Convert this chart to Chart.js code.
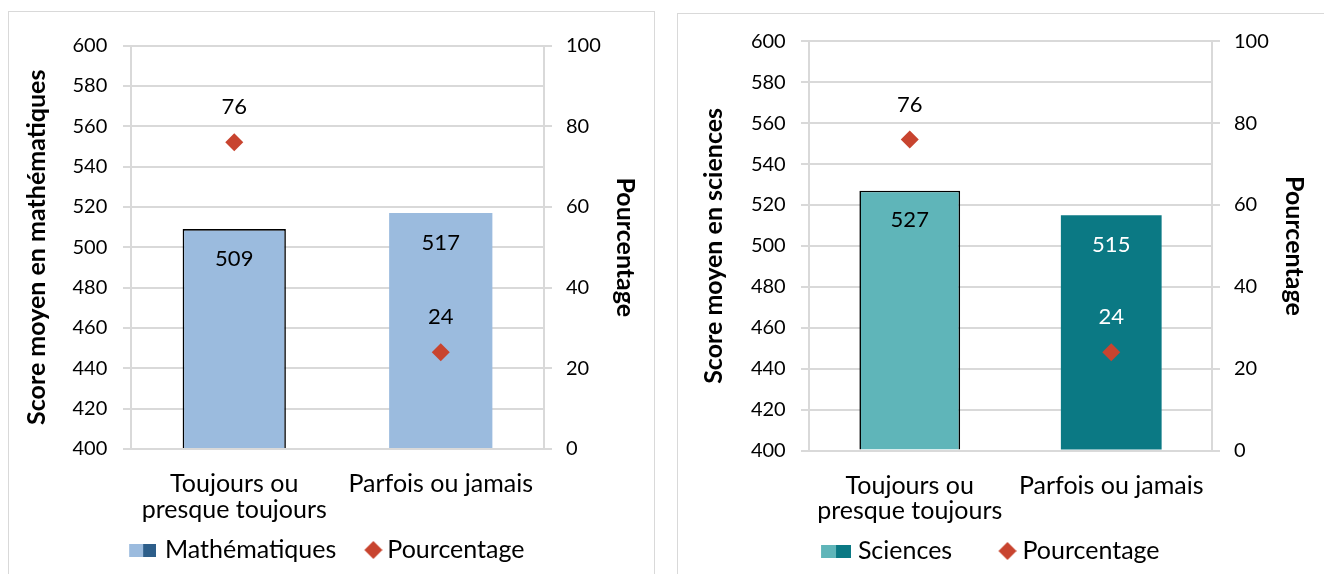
<!DOCTYPE html>
<html>
<head>
<meta charset="utf-8">
<script src="https://cdn.jsdelivr.net/npm/chart.js@4.4.1/dist/chart.umd.min.js"></script>
<style>
html,body{margin:0;padding:0;background:#fff;width:1324px;height:574px;overflow:hidden;}
.box{position:absolute;border:1px solid #d9d9d9;background:#fff;}
#boxL{left:8px;top:11px;width:645px;height:600px;}
#boxR{left:677px;top:13px;width:680px;height:600px;}
canvas{position:absolute;left:0;top:0;}
</style>
</head>
<body>
<div class="box" id="boxL"><canvas id="cL" width="645" height="562" style="width:645px;height:562px"></canvas></div>
<div class="box" id="boxR"><canvas id="cR" width="646" height="560" style="width:646px;height:560px"></canvas></div>
<script>
// ---- Data ----
const categories = [['Toujours ou', 'presque toujours'], 'Parfois ou jamais'];
const mathScores = [509, 517];
const mathPct = [76, 24];
const sciScores = [527, 515];
const sciPct = [76, 24];
const scoreRange = [400, 600];
const scoreStep = 20;
const pctRange = [0, 100];
const pctStep = 20;

// ---- Styles ----
const FONT = 'Lato';
const RED = '#C8442F';
const GRID = '#D9D9D9';
const MATH_LIGHT = '#9BBBDE', MATH_DARK = '#2D5E8A';
const SCI_LIGHT = '#5FB5B9', SCI_DARK = '#0B7984';

// legend icons: transparent canvas, icon drawn at its right part
function swatch(c1, c2, w1, w2, h, canvasW) {
  const cv = document.createElement('canvas');
  cv.width = canvasW; cv.height = h;
  const g = cv.getContext('2d');
  const x0 = canvasW - w1 - w2;
  g.fillStyle = c1; g.fillRect(x0, 0, w1, h);
  g.fillStyle = c2; g.fillRect(x0 + w1, 0, w2, h);
  return cv;
}
function diamond(canvasW, cx, r) {
  const cv = document.createElement('canvas');
  cv.width = canvasW; cv.height = 2 * r + 2;
  const g = cv.getContext('2d');
  const cy = r + 1;
  g.fillStyle = RED;
  g.beginPath();
  g.moveTo(cx - r, cy); g.lineTo(cx, cy - r); g.lineTo(cx + r, cy); g.lineTo(cx, cy + r);
  g.closePath(); g.fill();
  return cv;
}

const valueLabels = {
  id: 'valueLabels',
  afterDatasetsDraw(chart) {
    const ctx = chart.ctx;
    ctx.save();
    ctx.font = '22px ' + FONT;
    ctx.textAlign = 'center';
    ctx.textBaseline = 'middle';
    chart.data.datasets.forEach((ds, di) => {
      const meta = chart.getDatasetMeta(di);
      meta.data.forEach((el, i) => {
        ctx.fillStyle = ds.labelColors[i];
        const dy = ds.type === 'bar' ? 29.5 : -35;
        ctx.fillText(String(ds.data[i]), el.x, el.y + dy);
      });
    });
    ctx.restore();
  }
};

function build(canvasId, o) {
  const tickFont = { family: FONT, size: 20 };
  const titleFont = { family: FONT, size: 25, weight: 'bold', lineHeight: 1 };
  return new Chart(document.getElementById(canvasId), {
    type: 'bar',
    data: {
      labels: categories,
      datasets: [
        {
          type: 'line', label: 'Pourcentage', data: o.pct, yAxisID: 'y1',
          showLine: false, pointStyle: 'rectRot', pointRadius: 9, pointHoverRadius: 9,
          pointBackgroundColor: RED, pointBorderColor: RED, pointBorderWidth: 0,
          order: 0, labelColors: o.pctLabelColors
        },
        {
          type: 'bar', label: o.name, data: o.scores, yAxisID: 'y',
          base: scoreRange[0],
          backgroundColor: o.barColors, borderColor: ['#000000', 'rgba(0,0,0,0)'],
          borderWidth: [1.6, 0], borderSkipped: 'start',
          barPercentage: 0.5, categoryPercentage: 1,
          order: 1, labelColors: o.barLabelColors
        }
      ]
    },
    options: {
      responsive: false,
      animation: false,
      events: [],
      layout: { padding: o.pad },
      plugins: {
        tooltip: { enabled: false },
        legend: {
          position: 'bottom',
          labels: {
            usePointStyle: true,
            pointStyleWidth: o.boxW,
            padding: 10,
            color: '#000',
            font: { family: FONT, size: 25 },
            generateLabels: () => [
              { text: o.name, pointStyle: o.icon1, fillStyle: o.barColors[0], strokeStyle: 'rgba(0,0,0,0)', lineWidth: 0, hidden: false, datasetIndex: 1 },
              { text: 'Pourcentage', pointStyle: o.icon2, fillStyle: RED, strokeStyle: 'rgba(0,0,0,0)', lineWidth: 0, hidden: false, datasetIndex: 0 }
            ]
          }
        }
      },
      scales: {
        x: {
          grid: { display: false, drawTicks: false },
          border: { display: false },
          ticks: { font: { family: FONT, size: 25, lineHeight: o.xLine }, color: '#000', padding: o.xPad, maxRotation: 0, autoSkip: false },
          afterFit(s) { s.height = o.xH; }
        },
        y: {
          position: 'left', min: scoreRange[0], max: scoreRange[1],
          ticks: { stepSize: scoreStep, font: tickFont, color: '#000', padding: o.yPad },
          grid: { color: GRID, lineWidth: 2, tickLength: 8 },
          border: { color: GRID, width: 2 },
          title: { display: true, text: o.yTitle, font: titleFont, color: '#000', padding: { top: o.yTitlePad, bottom: 0 } },
          afterFit(s) { s.width = o.yW; }
        },
        y1: {
          position: 'right', min: pctRange[0], max: pctRange[1],
          ticks: { stepSize: pctStep, font: tickFont, color: '#000', padding: 14 },
          grid: { drawOnChartArea: false, color: GRID, lineWidth: 2, tickLength: 8 },
          border: { color: GRID, width: 2 },
          title: { display: true, text: 'Pourcentage', font: titleFont, color: '#000', padding: { top: o.y1TitlePad, bottom: 0 } },
          afterFit(s) { s.width = o.y1W; }
        }
      }
    },
    plugins: [valueLabels]
  });
}

function draw() {
  build('cL', {
    name: 'Mathématiques', scores: mathScores, pct: mathPct,
    barColors: [MATH_LIGHT, MATH_LIGHT],
    barLabelColors: ['#000', '#000'], pctLabelColors: ['#000', '#000'],
    yTitle: 'Score moyen en mathématiques',
    pad: { top: 33.5, left: 0, right: 14.6, bottom: 1.5 },
    yW: 122, y1W: 95.4, xH: 78.5, xPad: 21.85, xLine: 1.03, yPad: 15.7,
    yTitlePad: 15.5, y1TitlePad: 1.4,
    boxW: 28.5,
    icon1: swatch(MATH_LIGHT, MATH_DARK, 14, 13, 13, 36),
    icon2: diamond(44, 34.75, 9)
  });
  build('cR', {
    name: 'Sciences', scores: sciScores, pct: sciPct,
    barColors: [SCI_LIGHT, SCI_DARK],
    barLabelColors: ['#000', '#fff'], pctLabelColors: ['#000', '#fff'],
    yTitle: 'Score moyen en sciences',
    pad: { top: 27, left: 0, right: 44.8, bottom: 0.5 },
    yW: 131, y1W: 67.2, xH: 78, xPad: 23.25, xLine: 0.98, yPad: 15.3,
    yTitlePad: 23.5, y1TitlePad: -27.3,
    boxW: 47.75,
    icon1: swatch(SCI_LIGHT, SCI_DARK, 15, 15, 13, 59),
    icon2: diamond(61, 51.9, 9)
  });
}

if (document.fonts && document.fonts.load) {
  Promise.all([
    document.fonts.load('20px Lato'),
    document.fonts.load('bold 25px Lato')
  ]).then(draw, draw);
} else {
  draw();
}
</script>
</body>
</html>
